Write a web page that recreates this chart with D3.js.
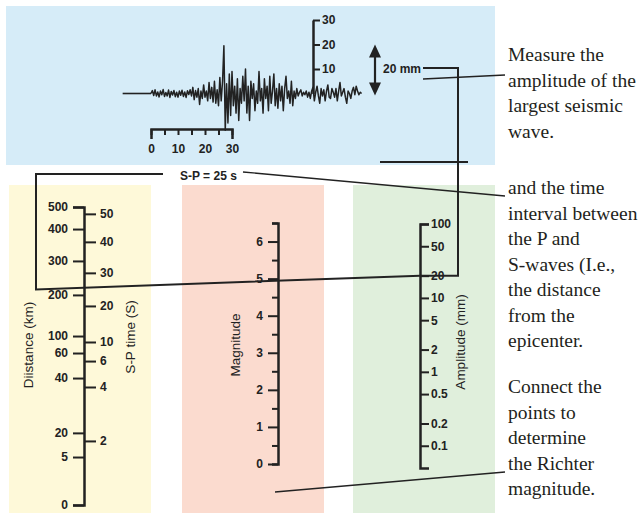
<!DOCTYPE html>
<html>
<head>
<meta charset="utf-8">
<title>Richter magnitude nomogram</title>
<script src="https://cdnjs.cloudflare.com/ajax/libs/d3/7.8.5/d3.min.js"></script>
<style>
body { margin: 0; background: #fff; }
svg text { font-family: "Liberation Sans", Arial, sans-serif; fill: #222; }
.axis .tick text { font-weight: bold; font-size: 12px; }
.axis path, .axis line { stroke: #222; }
.axis path { stroke-width: 2.5; }
.axis line { stroke-width: 2; }
.title { font-size: 13.5px; }
.note { font-family: "Liberation Serif", "Times New Roman", serif; font-size: 19.5px; fill: #231f20; }
.link { fill: none; stroke: #222; }
</style>
</head>
<body>
<svg id="chart" width="642" height="513"></svg>
<script>
// nomogram scales: tick values and where they sit along the left axis (0 = bottom, 1 = top)
var distTicks = [0, 5, 20, 40, 60, 100, 200, 300, 400, 500];
var distLevels = [0, 0.161, 0.242, 0.426, 0.51, 0.567, 0.705, 0.819, 0.926, 1];
var spTicks = [2, 4, 6, 10, 20, 30, 40, 50];
var spLevels = [0.215, 0.396, 0.483, 0.547, 0.668, 0.779, 0.883, 0.977];
var magTicks = [0, 1, 2, 3, 4, 5, 6];
var magHalf = [0.5, 1.5, 2.5, 3.5, 4.5, 5.5, 6.5];
var ampTicks = [0.1, 0.2, 0.5, 1, 2, 5, 10, 20, 50, 100];

// seismogram
var timeTicks = [0, 5, 10, 15, 20, 25, 30];
var timeLabels = [0, 10, 20, 30];
var waveTicks = [10, 20, 30];
var traceStep = 0.5; // seconds between samples, values in mm
var trace = [0, 1.2, -0.8, 1.5, -1, 0.6, -1.4, 1, -0.5, 1.6,
  -1.2, 0.4, -1, 1.4, -1.6, 0.8, -0.6, 1.2, -1.3, 0.5,
  -1.5, 1, -0.7, 1.3, -1.2, 0.6, -1.6, 1.1, -0.4, 1.5,
  -1, 2.5, -2.5, 1.2, -1.5, 2, -4.5, 1, -2, 3.5,
  -1.5, 1, -3, 4.5, -2, 2.5, -3.5, 5, -4, 1.5,
  -5, 6.5, -3, 5, 19.5, -15, 4, -12, 8, -9,
  9, -5, 3, -8, 6, -11, 2, -4, 7, -3,
  10, -8, 3, -11, 5, -2, 4, -7, 1, -4,
  9, -3, 2, -8, 6, -2, 3, -7, 7, -4,
  1, 8, -5, 2, -6, 4, -3, 3, -7, 2,
  7, -2, 1, -4, 5, -5, 1, -2, 2, -1,
  0.5, 1.5, -1, 0.5, -0.5, 1, -1.5, 0.5, -2, 1,
  2.5, -3, 0.5, 3, -1, -4, 2, -1, 1.5, -3,
  1, 3.5, -1.5, -2, 2, 0.5, -1.5, 2, -3, 1,
  4.5, -1, 0.5, 2, -1.5, -4, 1, 0, -2, 1,
  2.5, -0.5, 3, 1, -0.5, 0.5, 0];

var spReading = 25;
var ampReading = 20;

var note1 = ["Measure the", "amplitude of the", "largest seismic", "wave."];
var note2 = ["and the time", "interval between", "the P and", "S-waves (I.e.,", "the distance", "from the", "epicenter."];
var note3 = ["Connect the", "points to", "determine", "the Richter", "magnitude."];

var svg = d3.select('#chart');

// coloured panels
var panels = [
  {x: 6, y: 6, w: 489, h: 159, c: '#d6ecf8'},
  {x: 9, y: 185, w: 142, h: 328, c: '#fef9d9'},
  {x: 182, y: 185, w: 142, h: 328, c: '#fbdbcf'},
  {x: 353, y: 185, w: 142, h: 328, c: '#e0efdc'}
];
svg.selectAll('rect.panel').data(panels).enter().append('rect')
  .attr('class', 'panel')
  .attr('x', d => d.x).attr('y', d => d.y)
  .attr('width', d => d.w).attr('height', d => d.h)
  .attr('fill', d => d.c);

var leftX = 84, magX = 278, ampX = 420;
var levelY = d3.scaleLinear().domain([0, 1]).range([505, 207]);
var distY = d3.scaleLinear().domain(distTicks).range(distLevels.map(levelY));
var spY = d3.scaleLinear().domain(spTicks).range(spLevels.map(levelY));
var magY = d3.scaleLinear().domain([0, 6.5]).range([464, 223]);
var ampY = d3.scaleLog().domain([0.05, 100]).range([468, 224]);

var tX = d3.scaleLinear().domain([0, 30]).range([151, 232]);
var wY = d3.scaleLinear().domain([0, 30]).range([93.5, 20]);

// ---- seismogram ----
svg.append('line').attr('class', 'link')
  .attr('x1', tX(-10.5)).attr('x2', tX(0))
  .attr('y1', wY(0)).attr('y2', wY(0))
  .attr('stroke-width', 1.6);

svg.append('path')
  .datum(trace)
  .attr('class', 'link')
  .attr('stroke-width', 1.5)
  .attr('stroke-linejoin', 'round')
  .attr('d', d3.line().x((d, i) => tX(i * traceStep)).y(d => wY(d)));

var tAxis = svg.append('g').attr('class', 'axis')
  .attr('transform', 'translate(0,129)')
  .call(d3.axisBottom(tX).tickValues(timeTicks).tickSize(6).tickSizeOuter(10)
    .tickPadding(9).tickFormat(d => timeLabels.indexOf(d) >= 0 ? d : ''));
tAxis.select('.domain').attr('fill', 'none');

svg.append('g').attr('class', 'axis')
  .attr('transform', 'translate(313,0)')
  .call(d3.axisRight(wY).tickValues(waveTicks).tickSize(7).tickSizeOuter(0).tickPadding(2));

// double arrow 20 mm
var arrowX = 375;
svg.append('line').attr('class', 'link').attr('stroke-width', 2.2)
  .attr('x1', arrowX).attr('x2', arrowX)
  .attr('y1', wY(ampReading) + 8).attr('y2', wY(0) - 6);
svg.append('path').attr('fill', '#222')
  .attr('d', `M${arrowX},${wY(ampReading)} l-6,13 h12 z`);
svg.append('path').attr('fill', '#222')
  .attr('d', `M${arrowX},${wY(0) + 2} l-6,-13 h12 z`);
svg.append('text').attr('x', 383).attr('y', wY(10) + 4)
  .style('font-weight', 'bold').style('font-size', '12px')
  .text(ampReading + ' mm');

// ---- nomogram axes ----
var dAxis = svg.append('g').attr('class', 'axis')
  .attr('transform', `translate(${leftX},0)`)
  .call(d3.axisLeft(distY).tickValues(distTicks).tickSize(11).tickSizeOuter(11).tickPadding(5));
dAxis.select('.domain').attr('fill', 'none');

svg.append('g').attr('class', 'axis')
  .attr('transform', `translate(${leftX},0)`)
  .call(d3.axisRight(spY).tickValues(spTicks).tickSize(12).tickSizeOuter(0).tickPadding(4))
  .select('.domain').remove();

var mAxis = svg.append('g').attr('class', 'axis')
  .attr('transform', `translate(${magX},0)`)
  .call(d3.axisLeft(magY).tickValues(magTicks).tickSize(10).tickSizeOuter(6).tickPadding(5)
    .tickFormat(d3.format('d')));
mAxis.select('.domain').attr('fill', 'none');
svg.append('g').attr('class', 'axis')
  .attr('transform', `translate(${magX},0)`)
  .call(d3.axisLeft(magY).tickValues(magHalf).tickSize(6).tickFormat(''))
  .select('.domain').remove();

var aAxis = svg.append('g').attr('class', 'axis')
  .attr('transform', `translate(${ampX},0)`)
  .call(d3.axisRight(ampY).tickValues(ampTicks).tickSize(9).tickSizeOuter(9).tickPadding(2)
    .tickFormat(d3.format('~g')));
aAxis.select('.domain').attr('fill', 'none');

// axis titles
var titles = [
  {t: 'Diistance (km)', x: 28, y: 345},
  {t: 'S-P time (S)', x: 130, y: 337},
  {t: 'Magnitude', x: 235, y: 345},
  {t: 'Amplitude (mm)', x: 460, y: 342}
];
svg.selectAll('text.title').data(titles).enter().append('text')
  .attr('class', 'title')
  .attr('text-anchor', 'middle')
  .attr('dominant-baseline', 'central')
  .attr('transform', d => `translate(${d.x},${d.y}) rotate(-90)`)
  .text(d => d.t);

// ---- reading lines ----
var y25 = spY(spReading), yA = ampY(ampReading);
var bracketX = 458;
svg.append('path').attr('class', 'link').attr('stroke-width', 2)
  .attr('d', d3.line()([[163, 174], [36, 174], [36, y25], [ampX, yA], [bracketX, yA],
    [bracketX, 68], [423, 68]]));
svg.append('line').attr('class', 'link').attr('stroke-width', 2)
  .attr('x1', 380).attr('x2', 468).attr('y1', 162).attr('y2', 162);

svg.append('text').attr('x', 180).attr('y', 180)
  .style('font-weight', 'bold').style('font-size', '12px')
  .text('S-P = ' + spReading + ' s');

var leaders = [
  [[423, 79], [505, 75]],
  [[243, 172], [505, 196]],
  [[275, 492], [505, 472]]
];
svg.selectAll('path.leader').data(leaders).enter().append('path')
  .attr('class', 'link leader').attr('stroke-width', 1.3)
  .attr('d', d => d3.line()(d));

// ---- notes ----
function note(lines, y0) {
  svg.append('text').attr('class', 'note')
    .selectAll('tspan').data(lines).enter().append('tspan')
    .attr('x', 508).attr('y', (d, i) => y0 + i * 25.5)
    .text(d => d);
}
note(note1, 61);
note(note2, 194);
note(note3, 393);
</script>
</body>
</html>
